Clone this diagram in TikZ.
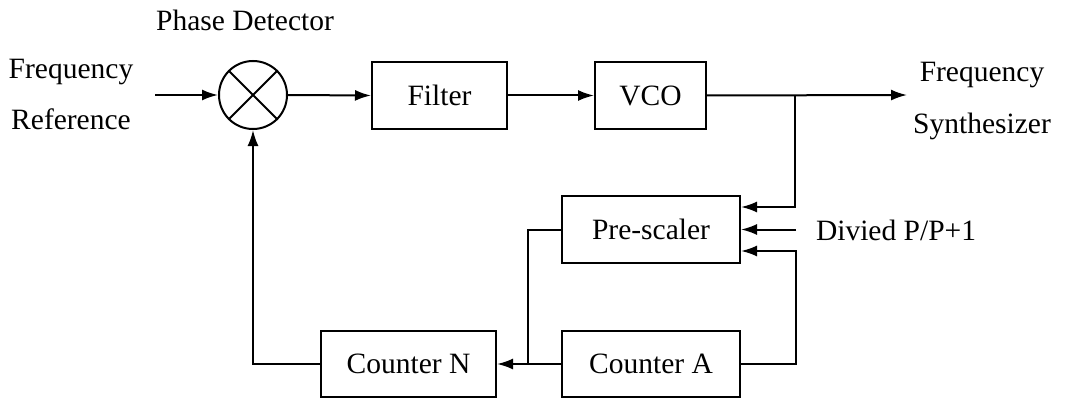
\documentclass[tikz,border=0pt]{standalone}
\usepackage{fontspec}
\setmainfont{Liberation Serif}
\usetikzlibrary{arrows.meta}
\begin{document}
\begin{tikzpicture}[x=1pt,y=-1pt,
  line width=2pt,
  blk/.style={draw,line width=2pt,inner sep=0pt,font=\fontsize{29.5}{33}\selectfont},
  lbl/.style={inner sep=0pt,font=\fontsize{29.5}{33}\selectfont},
  arr/.style={-{Latex[length=16pt,width=11pt]}}]
\useasboundingbox (0,0) rectangle (1065,401);
% blocks
\node[blk,circle,minimum size=68pt] (pd) at (253,95) {};
\draw (pd.north west) -- (pd.south east) (pd.north east) -- (pd.south west);
\node[blk,minimum width=135pt,minimum height=67pt] (filter) at (439.5,95.5) {Filter};
\node[blk,minimum width=111pt,minimum height=67pt] (vco) at (650.5,95.5) {VCO};
\node[blk,minimum width=178pt,minimum height=67pt] (pre) at (651,229.5) {Pre-scaler};
\node[blk,minimum width=175pt,minimum height=66pt] (cn) at (408.5,364) {Counter N};
\node[blk,minimum width=178pt,minimum height=66pt] (ca) at (651,364) {Counter A};
% labels
\node[lbl,anchor=base] (pdl) at (245,31) {Phase Detector};
\node[lbl,anchor=base] (fr1) at (71,79) {Frequency};
\node[lbl,anchor=base] (fr2) at (71,130) {Reference};
\node[lbl,anchor=base] (fs1) at (982,82) {Frequency};
\node[lbl,anchor=base] (fs2) at (982,134) {Synthesizer};
\node[lbl,anchor=west] (dv) at (815,230) {Divied P/P+1};
% coordinates
\coordinate (fin) at (155,95);
\coordinate (out) at (907,95);
\coordinate (j) at (795,95);
\coordinate (div) at (796,229.5);
\coordinate (ra) at (796,364);
\coordinate (lt) at (528,229.5);
\coordinate (tj) at (528,364);
% connectors
\draw[arr] (fin) -- (pd.west);
\draw[arr] (pd.east) -- (filter.west);
\draw[arr] (filter.east) -- (vco.west);
\draw[arr] (vco.east) -- (out);
\draw[arr] (j) |- ([yshift=22.5pt]pre.east);
\draw[arr] (div) -- (pre.east);
\draw[arr] (ca.east) -- (ra) |- ([yshift=-21.5pt]pre.east);
\draw[arr] (ca.west) -- (cn.east);
\draw (pre.west) -- (lt) -- (tj);
\draw[arr] (cn.west) -| (pd.south);
\end{tikzpicture}
\end{document}
